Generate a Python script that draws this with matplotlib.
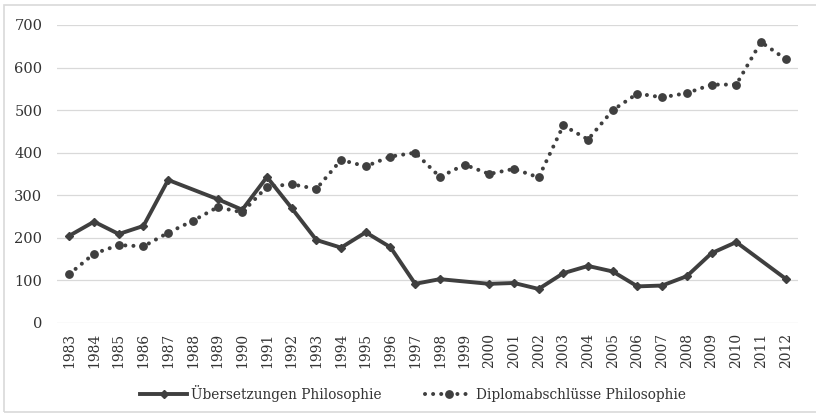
import numpy as np
import matplotlib
matplotlib.use('Agg')
import matplotlib.pyplot as plt
from matplotlib.patches import Rectangle

years = list(range(1983, 2013))
# Übersetzungen (nan = no value, Excel connects over the gap)
uebersetzungen = [205, 238, 209, 228, 336, np.nan, 291, 266, 343, 270,
                  195, 177, 213, 178, 92, 103, np.nan, 92, 94, 80,
                  117, 134, 121, 86, 88, 110, 164, 190, np.nan, 104]
diplom = [115, 163, 183, 180, 212, 240, 272, 260, 320, 326,
          315, 383, 368, 391, 400, 343, 372, 350, 362, 342,
          464, 431, 500, 539, 530, 540, 560, 560, 660, 620]
label_u = 'Übersetzungen Philosophie'
label_d = 'Diplomabschlüsse Philosophie'

col = '#3f3f3f'
W, H = 816, 418
fig = plt.figure(figsize=(W / 100, H / 100), dpi=100)
ax = fig.add_axes([57 / W, 1 - 323 / H, (798 - 57) / W, (323 - 25) / H])

x = np.arange(len(years))
u = np.array(uebersetzungen, dtype=float)
ok = ~np.isnan(u)
ax.plot(x[ok], u[ok], color=col, lw=2.8, marker='D', ms=4,
        solid_joinstyle='miter', label=label_u, zorder=3)
ax.plot(x, diplom, color=col, lw=2.9, linestyle=(0, (0.01, 2.0)),
        dash_capstyle='round', marker='o', ms=5.3, label=label_d, zorder=3)

ax.set_xlim(-0.5, len(years) - 0.5)
ax.set_ylim(0, 700)
ax.set_yticks(range(0, 701, 100))
ax.set_xticks(x)
ax.set_xticklabels([str(y) for y in years], rotation=90)
for s in ax.spines.values():
    s.set_visible(False)
ax.tick_params(axis='x', length=0, labelsize=10, colors='#333333', pad=7)
ax.tick_params(axis='y', length=0, labelsize=10.5, colors='#333333', pad=10.5)
for t in ax.get_xticklabels() + ax.get_yticklabels():
    t.set_family('DejaVu Serif')
ax.yaxis.grid(True, color='#d9d9d9', lw=0.9)
ax.set_axisbelow(True)

leg = fig.legend(loc='center', bbox_to_anchor=(413 / W, 1 - 394 / H),
                 ncol=2, frameon=False, numpoints=1, handlelength=3.1,
                 handletextpad=0.2, columnspacing=2.9,
                 prop={'family': 'DejaVu Serif', 'stretch': 'condensed', 'size': 11})
for t in leg.get_texts():
    t.set_color('#333333')

fig.patches.append(Rectangle((4 / W, 1 - 412 / H), (W + 10) / W, (412 - 5) / H,
                             transform=fig.transFigure, fill=False,
                             edgecolor='#d9d9d9', lw=1.2))
fig.savefig('out.png', dpi=100)
